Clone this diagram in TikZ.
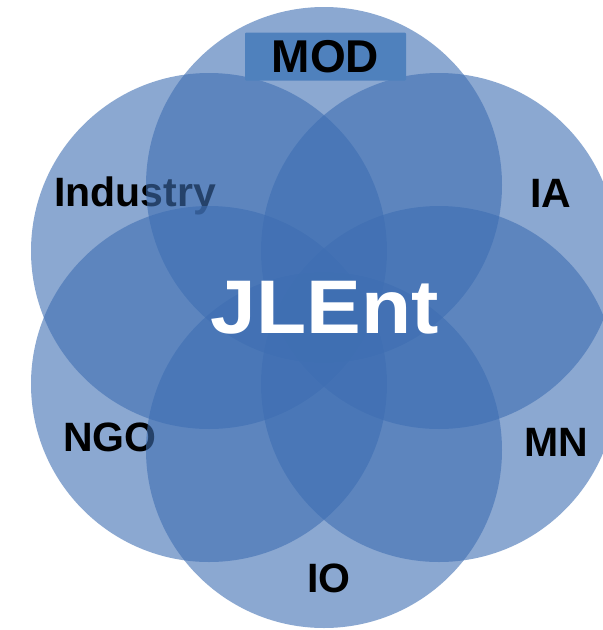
\documentclass[tikz,border=0pt]{standalone}
\usepackage{fontspec}
\setmainfont{Liberation Sans}
\definecolor{petal}{RGB}{62,110,178}
\definecolor{boxblue}{RGB}{79,129,189}
\tikzset{
  petalcirc/.style={circle, minimum size=356pt, inner sep=0pt, fill=petal, fill opacity=0.6, draw=none},
  lbl/.style={font=\fontsize{41}{41}\selectfont\bfseries, text=black, inner sep=0pt},
  titlebox/.style={fill=boxblue, rounded corners=1pt, minimum width=161pt, minimum height=48pt, inner sep=0pt},
  centertext/.style={font=\fontsize{76}{76}\selectfont\bfseries, text=white, inner sep=0pt}
}
\begin{document}
\begin{tikzpicture}[x=1pt,y=-1pt]
\useasboundingbox (0,0) rectangle (603,630);
% Industry
\node[petalcirc] (cind) at (209,251) {};
\node[lbl] (lind) at (135,196) {Industry};
% NGO
\node[petalcirc] (cngo) at (209,384) {};
\node[lbl] (lngo) at (110,437) {NGO};
% MOD circle
\node[petalcirc] (cmod) at (324,185) {};
% IO
\node[petalcirc] (cio) at (324,450) {};
\node[lbl] (lio) at (329,578) {IO};
% IA
\node[petalcirc] (cia) at (439,251) {};
\node[lbl] (lia) at (551,193) {IA};
% MN
\node[petalcirc] (cmn) at (439,384) {};
\node[lbl] (lmn) at (556,442) {MN};
% MOD box
\node[titlebox] (modbox) at (325.5,56.5) {};
\node[lbl, font=\fontsize{46}{46}\selectfont\bfseries] (lmod) at (325.5,57) {MOD};
% Centre
\node[centertext, xscale=1.08] (jlent) at (325,308) {JLEnt};
\end{tikzpicture}
\end{document}
